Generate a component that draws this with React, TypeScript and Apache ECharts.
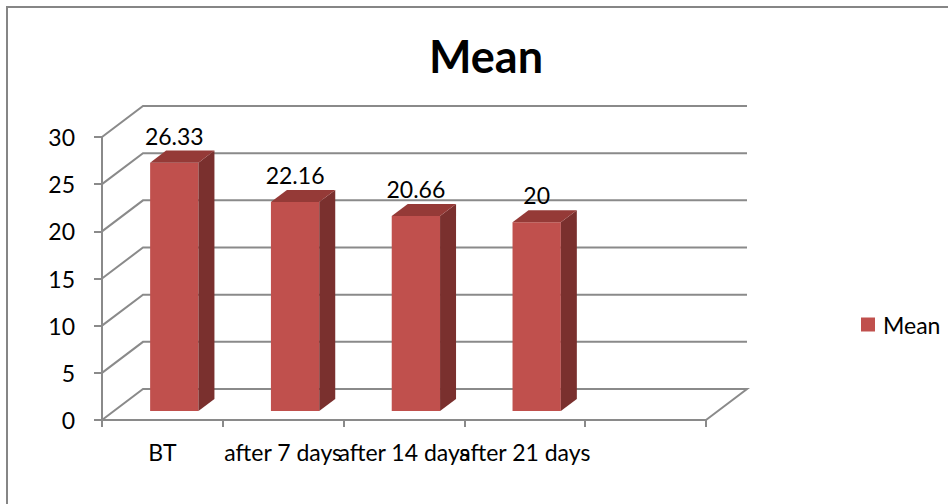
import React, { useEffect, useRef } from "react";
import * as echarts from "echarts";

// Chart content
const categories = ["BT", "after 7 days", "after 14 days", "after 21 days", ""];
const meanValues = [26.33, 22.16, 20.66, 20];
const yTicks = [0, 5, 10, 15, 20, 25, 30];
const seriesName = "Mean";

// Oblique projection of the back plane (pixels)
const DEPTH_DX = 41;
const DEPTH_DY = -31;
const BAR_FRONT = 0.29; // depth fraction where bar front faces sit
const BAR_BACK = 0.68; // depth fraction of bar back faces
const BAR_WIDTH = 0.4; // fraction of category slot

const GRID_COLOR = "#8a8a8a";
const FONT = "Lato, 'Open Sans', sans-serif";
const LABEL_SIZE = 23;

export default function App() {
  const ref = useRef<HTMLDivElement>(null);

  useEffect(() => {
    if (!ref.current) return;
    const chart = echarts.init(ref.current, undefined, { renderer: "svg" });

    const wallData = yTicks.map((v) => [0, v]);
    const barData = meanValues.map((v, i) => [i, v]);

    chart.setOption({
      animation: false,
      backgroundColor: "#ffffff",
      textStyle: { fontFamily: FONT },
      title: {
        text: "Mean",
        left: 481,
        top: 28,
        textAlign: "center",
        textStyle: { fontSize: 45, fontWeight: "bold", color: "#000", fontFamily: FONT },
      },
      legend: {
        data: [seriesName],
        left: 856,
        top: 308,
        icon: "rect",
        itemWidth: 14,
        itemHeight: 14,
        textStyle: { fontSize: LABEL_SIZE, color: "#000", fontFamily: FONT, padding: [0, 0, 0, 3] },
      },
      graphic: [
        {
          type: "rect",
          shape: { x: 7, y: 7, width: 1000, height: 1000 },
          style: { fill: "none", stroke: "#868686", lineWidth: 2 },
          silent: true,
        },
      ],
      grid: { left: 102, top: 137, width: 604, height: 283 },
      xAxis: {
        type: "category",
        data: categories,
        boundaryGap: true,
        axisLine: { lineStyle: { color: GRID_COLOR, width: 2 } },
        axisTick: { show: true, length: 7, lineStyle: { color: GRID_COLOR, width: 2 } },
        axisLabel: { interval: 0, fontSize: LABEL_SIZE, color: "#000", margin: 20, fontFamily: FONT },
        splitLine: { show: false },
      },
      yAxis: {
        type: "value",
        min: 0,
        max: 30,
        interval: 5,
        axisLine: { show: true, lineStyle: { color: GRID_COLOR, width: 2 } },
        axisTick: { show: true, length: 8, lineStyle: { color: GRID_COLOR, width: 2 } },
        axisLabel: { fontSize: LABEL_SIZE, color: "#000", margin: 27, fontFamily: FONT },
        splitLine: { show: false },
      },
      series: [
        {
          type: "custom",
          silent: true,
          data: wallData,
          encode: { x: 0, y: 1 },
          z: 1,
          renderItem: (params: any, api: any) => {
            const cs = params.coordSys;
            const v = api.value(1);
            const y = api.coord([0, v])[1];
            const x0 = cs.x;
            const x1 = cs.x + cs.width;
            const pts: number[][] = [
              [x0, y],
              [x0 + DEPTH_DX, y + DEPTH_DY],
              [x1 + DEPTH_DX, y + DEPTH_DY],
            ];
            if (v === 0) pts.push([x1, y]);
            return {
              type: "polyline",
              shape: { points: pts },
              style: { stroke: GRID_COLOR, lineWidth: 2, fill: "none" },
            };
          },
        },
        {
          type: "custom",
          name: seriesName,
          data: barData,
          encode: { x: 0, y: 1 },
          z: 2,
          itemStyle: { color: "#C0504D" },
          renderItem: (params: any, api: any) => {
            const idx = api.value(0);
            const val = api.value(1);
            const base = api.coord([idx, 0]);
            const top = api.coord([idx, val]);
            const slot = api.size([1, 0])[0];
            const w = slot * BAR_WIDTH;
            const fx = BAR_FRONT * DEPTH_DX;
            const fy = BAR_FRONT * DEPTH_DY;
            const dx = (BAR_BACK - BAR_FRONT) * DEPTH_DX;
            const dy = (BAR_BACK - BAR_FRONT) * DEPTH_DY;
            const left = base[0] - w / 2 + fx;
            const right = left + w;
            const yTop = top[1] + fy;
            const yBot = base[1] + fy;
            return {
              type: "group",
              children: [
                {
                  type: "rect",
                  shape: { x: left, y: yTop, width: w, height: yBot - yTop },
                  style: { fill: "#C0504D" },
                },
                {
                  type: "polygon",
                  shape: {
                    points: [
                      [right, yTop],
                      [right + dx, yTop + dy],
                      [right + dx, yBot + dy],
                      [right, yBot],
                    ],
                  },
                  style: { fill: "#7A302E" },
                },
                {
                  type: "polygon",
                  shape: {
                    points: [
                      [left, yTop],
                      [left + dx, yTop + dy],
                      [right + dx, yTop + dy],
                      [right, yTop],
                    ],
                  },
                  style: { fill: "#953A37" },
                },
                {
                  type: "text",
                  style: {
                    text: String(val),
                    x: left + w / 2,
                    y: yTop - 27,
                    align: "center",
                    verticalAlign: "middle",
                    fontSize: LABEL_SIZE,
                    fontFamily: FONT,
                    fill: "#000",
                  },
                },
              ],
            };
          },
        },
      ],
    });

    return () => chart.dispose();
  }, []);

  return <div ref={ref} style={{ width: 948, height: 504, position: "absolute", left: 0, top: 0 }} />;
}
